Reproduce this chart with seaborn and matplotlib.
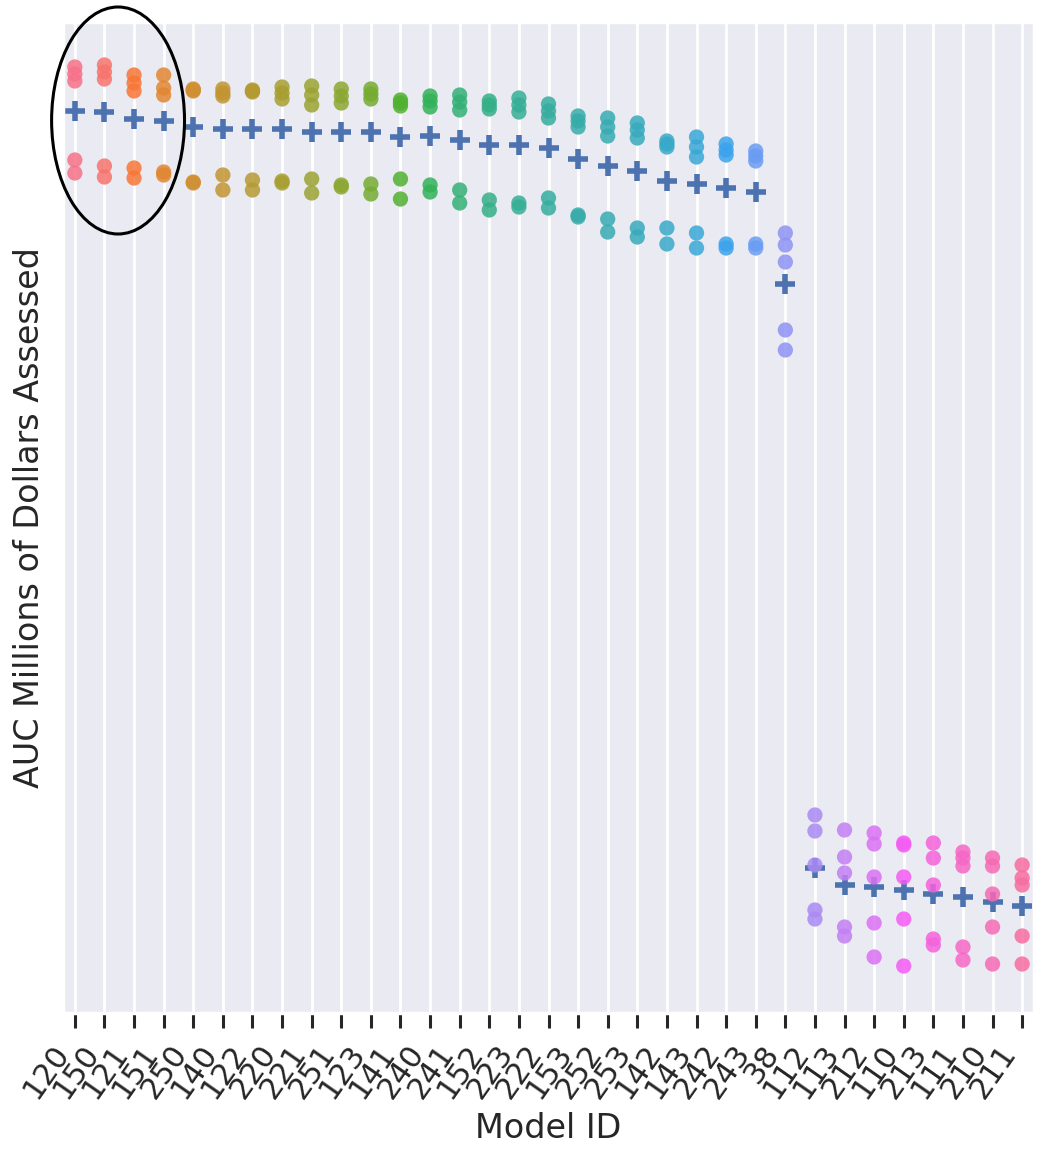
import pandas as pd
import seaborn as sns
from matplotlib import pyplot as plt
from matplotlib.patches import Ellipse

# model IDs in plotted order
models = ['120', '150', '121', '151', '250', '140', '122', '220', '221', '251',
          '123', '141', '240', '241', '152', '223', '222', '153', '252', '253',
          '142', '143', '242', '243', '38', '112', '113', '212', '110', '213',
          '111', '210', '211']

# five AUC values per model
auc_120 = [94.6, 93.9, 93.2, 85.3, 84.0]
auc_150 = [94.8, 94.1, 93.4, 84.7, 83.6]
auc_121 = [93.8, 93.0, 92.2, 84.5, 83.5]
auc_151 = [93.8, 92.5, 91.8, 84.1, 83.8]
auc_250 = [92.4, 92.3, 92.2, 83.1, 83.0]
auc_140 = [92.4, 92.0, 91.7, 83.8, 82.3]
auc_122 = [92.3, 92.2, 92.1, 83.3, 82.3]
auc_220 = [92.6, 92.0, 91.4, 83.2, 83.0]
auc_221 = [92.7, 91.8, 90.8, 83.4, 82.0]
auc_251 = [92.4, 91.7, 91.0, 82.8, 82.6]
auc_123 = [92.4, 91.9, 91.4, 82.9, 81.9]
auc_141 = [91.3, 91.0, 90.7, 83.4, 81.4]
auc_240 = [91.7, 91.2, 90.6, 82.8, 82.1]
auc_241 = [91.8, 91.1, 90.3, 82.3, 81.0]
auc_152 = [91.2, 90.8, 90.4, 81.3, 80.3]
auc_223 = [91.5, 90.8, 90.1, 81.0, 80.6]
auc_222 = [90.9, 90.2, 89.5, 81.5, 80.5]
auc_153 = [89.7, 89.2, 88.6, 79.8, 79.6]
auc_252 = [89.5, 88.6, 87.7, 79.4, 78.1]
auc_253 = [89.0, 88.3, 87.5, 78.5, 77.6]
auc_142 = [87.2, 86.9, 86.6, 78.5, 76.9]
auc_143 = [87.6, 86.6, 85.6, 78.0, 76.5]
auc_242 = [86.9, 86.3, 85.8, 76.9, 76.5]
auc_243 = [86.2, 85.7, 85.2, 76.9, 76.5]
auc_38 = [78.0, 76.8, 75.1, 68.3, 66.3]
auc_112 = [19.8, 18.2, 14.8, 10.3, 9.4]
auc_113 = [18.3, 15.6, 14.0, 8.6, 7.7]
auc_212 = [18.0, 16.9, 13.6, 9.0, 5.6]
auc_110 = [17.0, 16.8, 13.6, 9.4, 4.7]
auc_213 = [17.0, 15.5, 12.8, 7.4, 6.8]
auc_111 = [16.1, 15.5, 14.7, 6.6, 5.3]
auc_210 = [15.5, 14.7, 11.9, 8.6, 4.9]
auc_211 = [14.8, 13.5, 12.8, 7.7, 4.9]

all_auc = [auc_120, auc_150, auc_121, auc_151, auc_250, auc_140, auc_122,
           auc_220, auc_221, auc_251, auc_123, auc_141, auc_240, auc_241,
           auc_152, auc_223, auc_222, auc_153, auc_252, auc_253, auc_142,
           auc_143, auc_242, auc_243, auc_38, auc_112, auc_113, auc_212,
           auc_110, auc_213, auc_111, auc_210, auc_211]

rows = []
for m, vals in zip(models, all_auc):
    for v in vals:
        rows.append({'Model ID': m, 'AUC': v})
df = pd.DataFrame(rows)

sns.set_theme(style='darkgrid', context='poster')

fig = plt.figure(figsize=(10.38, 11.54), dpi=100)
ax = fig.add_axes([63 / 1038, 1 - 1013 / 1154, 971 / 1038, 991 / 1154])

sns.stripplot(data=df, x='Model ID', y='AUC', hue='Model ID', order=models,
              hue_order=models, palette='husl', jitter=False, size=11,
              alpha=0.85, legend=False, ax=ax)
sns.pointplot(data=df, x='Model ID', y='AUC', order=models, color='C0',
              markers='+', linestyles='none', errorbar=None,
              markersize=15, markeredgewidth=4, ax=ax)

ax.xaxis.grid(True)
ax.set_xlim(-0.4, 32.4)
ax.set_ylim(0, 99.1)
ax.set_yticks([])
ax.tick_params(axis='x', bottom=True, length=11, width=2.2, color='.15',
               labelsize=22, pad=8)
plt.setp(ax.get_xticklabels(), rotation=55, ha='right')
ax.set_xlabel('Model ID', fontsize=24, labelpad=6)
ax.set_ylabel('AUC Millions of Dollars Assessed', fontsize=24, labelpad=12)

# highlight the first four models
ax.add_patch(Ellipse((1.46, 89.25), 4.49, 22.7, fill=False, ec='black',
                     lw=2.2, clip_on=False, zorder=5))

fig.savefig('out.png', dpi=100)
